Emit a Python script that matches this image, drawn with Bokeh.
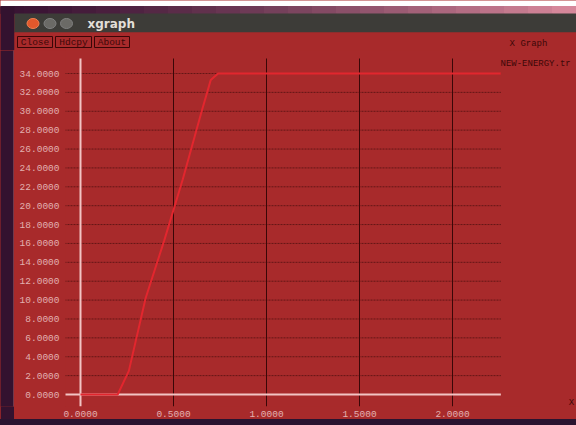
from bokeh.plotting import figure
from bokeh.layouts import column, row
from bokeh.models import Range1d, FixedTicker, PrintfTickFormatter
from bokeh.core.properties import value
from bokeh.embed import file_html
from bokeh.resources import INLINE

# ---------------- data ----------------
time_s = [0.0, 0.20, 0.26, 0.35, 0.45, 0.55, 0.65, 0.70, 0.74, 2.26]
energy = [0.0, 0.0, 2.5, 10.2, 16.3, 22.8, 29.9, 33.3, 34.0, 34.0]
y_ticks = [0, 2, 4, 6, 8, 10, 12, 14, 16, 18, 20, 22, 24, 26, 28, 30, 32, 34]
x_ticks = [0.0, 0.5, 1.0, 1.5, 2.0]
legend_name = "NEW-ENERGY.tr"
window_title = "xgraph"
graph_title = "X Graph"
button_names = ["Close", "Hdcpy", "About"]
x_title = "X"

# ---------------- styles ----------------
RED = "#a82a2b"
PURPLE = "#33122f"
BOTTOM = "#2a1430"
GREY = "#3d3c38"
MONO = "Liberation Mono"
LBL = "#e2b0b0"
DARK_TXT = "#3c0808"

# ---------------- title bar figure ----------------
top = figure(width=576, height=50, x_range=Range1d(0, 576), y_range=Range1d(50, 0),
             toolbar_location=None, output_backend="svg", min_border=0,
             x_axis_location=None, y_axis_location=None)
top.outline_line_color = None
top.background_fill_color = RED
top.border_fill_color = RED
top.grid.grid_line_color = None

n = 24
def mix(c1, c2, t):
    a = [int(c1[i:i+2], 16) for i in (1, 3, 5)]
    b = [int(c2[i:i+2], 16) for i in (1, 3, 5)]
    return "#%02x%02x%02x" % tuple(int(a[k] + (b[k] - a[k]) * t) for k in range(3))
lefts = [576 * i / n for i in range(n)]
rights = [576 * (i + 1) / n for i in range(n)]
cols = [mix("#3a1434", "#d6879a", (i / (n - 1)) ** 1.3) for i in range(n)]
top.quad(left=[-5], right=[590], top=[-5], bottom=[6], fill_color="white", line_color=None)
top.quad(left=lefts, right=rights, top=[6] * n, bottom=[13] * n, fill_color=cols, line_color=cols)
top.quad(left=[-5], right=[14], top=[6], bottom=[60], fill_color=PURPLE, line_color=None)
top.quad(left=[14], right=[590], top=[13], bottom=[32], fill_color=GREY, line_color=None)
top.quad(left=[14], right=[590], top=[32], bottom=[60], fill_color=RED, line_color=None)
top.ellipse(x=[32.5, 49.5, 66], y=[23, 23, 23], width=12, height=10,
            fill_color=["#e2582c", "#6b6a66", "#6b6a66"], line_color=["#f08050", "#808080", "#808080"])
top.text(x=[87], y=[23.5], text=[window_title], text_font=value("DejaVu Sans"),
         text_font_style="bold", text_font_size="12px", text_color="#e2dfd8",
         text_baseline="middle")
bl = [17, 55, 94]
br = [52, 91, 129]
top.quad(left=bl, right=br, top=[36] * 3, bottom=[47] * 3, fill_color=None,
         line_color="#3a0606", line_width=1)
top.text(x=[(a + b) / 2 for a, b in zip(bl, br)], y=[41.5] * 3, text=button_names,
         text_font=value(MONO), text_font_size="9.5px", text_color=DARK_TXT,
         text_align="center", text_baseline="middle")
top.text(x=[528], y=[43.5], text=[graph_title], text_font=value(MONO), text_font_size="9px",
         text_color=DARK_TXT, text_align="center", text_baseline="middle")

# ---------------- left strip ----------------
left = figure(width=14, height=369, x_range=Range1d(0, 14), y_range=Range1d(0, 1),
              toolbar_location=None, output_backend="svg", min_border=0,
              x_axis_location=None, y_axis_location=None)
left.outline_line_color = None
left.background_fill_color = PURPLE
left.border_fill_color = PURPLE
left.grid.grid_line_color = None
left.segment(x0=[13.5], x1=[13.5], y0=[-1], y1=[2], line_color="#b0606a", line_width=1)

# ---------------- main plot ----------------
PX_X, X0 = 186.0, 80.0   # pixel calibration
PX_Y, Y0 = 9.441, 394.0
x_rng = Range1d((65 - X0) / PX_X, (576 - X0) / PX_X)
y_rng = Range1d((Y0 - 406) / PX_Y, (Y0 - 50) / PX_Y)

p = figure(width=562, height=369, x_range=x_rng, y_range=y_rng,
           toolbar_location=None, output_backend="svg",
           min_border_left=51, min_border_right=0, min_border_top=0, min_border_bottom=13)
p.background_fill_color = RED
p.border_fill_color = RED
p.outline_line_color = None
p.grid.grid_line_color = None

for ax in (p.xaxis, p.yaxis):
    ax.axis_line_color = None
    ax.major_tick_line_color = None
    ax.minor_tick_line_color = None
    ax.major_tick_in = 0
    ax.major_tick_out = 0
    ax.formatter = PrintfTickFormatter(format="%.4f")
    ax.major_label_text_font = MONO
    ax.major_label_text_font_size = "9.5px"
    ax.major_label_text_color = LBL
p.yaxis.ticker = FixedTicker(ticks=y_ticks)
p.xaxis.ticker = FixedTicker(ticks=x_ticks)
p.yaxis.major_label_standoff = 6
p.xaxis.major_label_standoff = 4

x_end = max(time_s)
y_top = (Y0 - 58) / PX_Y
x_left = (58 - X0) / PX_X

gy = [t for t in y_ticks if t != 0]
p.segment(x0=[x_left] * len(gy), x1=[x_end] * len(gy), y0=gy, y1=gy,
          line_color="#641616", line_width=1, line_dash="2 1")
gx = [t for t in x_ticks if t != 0]
p.segment(x0=gx, x1=gx, y0=[y_top] * len(gx), y1=[y_rng.start] * len(gx),
          line_color="#3a0707", line_width=1)
p.segment(x0=[0], x1=[0], y0=[y_top], y1=[y_rng.start], line_color="#f2c4c4", line_width=2)
p.segment(x0=[x_left], x1=[x_end], y0=[0], y1=[0], line_color="#f2c4c4", line_width=2)

p.line(time_s, energy, line_color="#e2262e", line_width=2)

p.text(x=[(500 - X0) / PX_X], y=[(Y0 - 63) / PX_Y], text=[legend_name],
       text_font=value(MONO), text_font_size="9px", text_color=DARK_TXT,
       text_baseline="middle")
p.text(x=[(571 - X0) / PX_X], y=[(Y0 - 402) / PX_Y], text=[x_title],
       text_font=value(MONO), text_font_size="9px", text_color=DARK_TXT,
       text_align="center", text_baseline="middle")

mid = row(left, p, spacing=0, styles={"background-color": RED})
layout = column(top, mid, spacing=0, width=576, height=425,
                styles={"background": "linear-gradient(to bottom, %s 0px, %s 419px, %s 419px, %s 100%%)"
                        % (RED, RED, BOTTOM, BOTTOM)})
open("out.html", "w").write(file_html(layout, INLINE))
